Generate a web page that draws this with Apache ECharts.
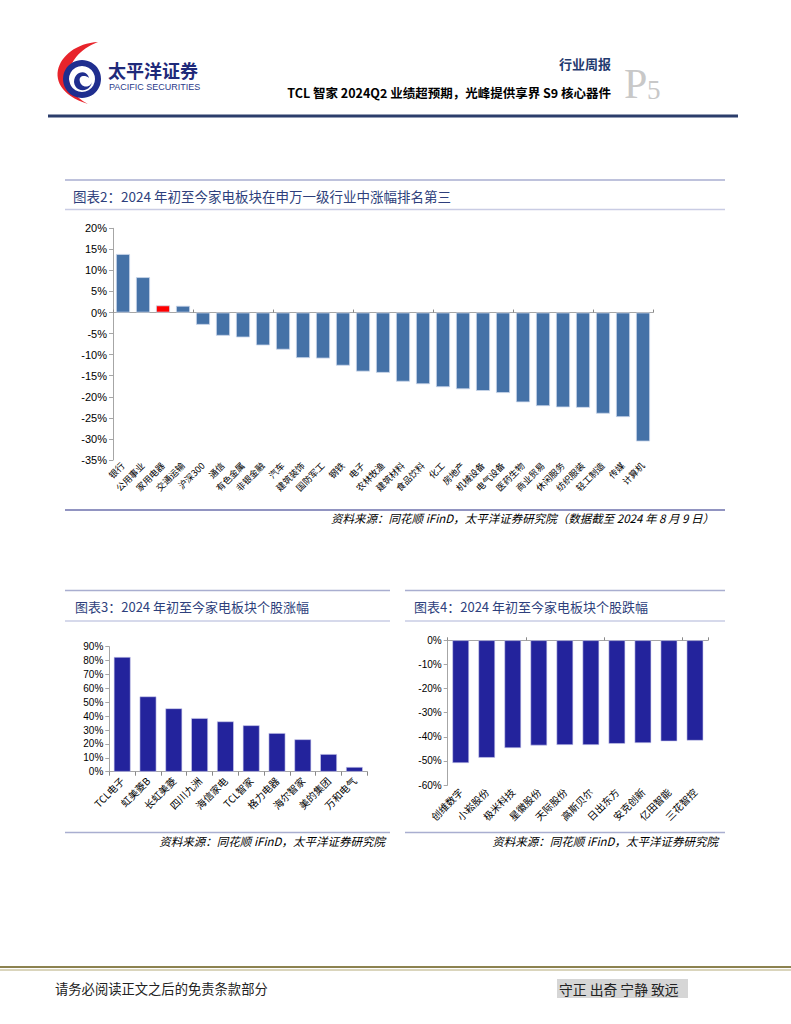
<!DOCTYPE html>
<html>
<head>
<meta charset="utf-8">
<script src="https://cdn.jsdelivr.net/npm/echarts@6/dist/echarts.min.js"></script>
<style>
html,body{margin:0;padding:0;background:#fff;}
#c{width:791px;height:1024px;}
</style>
</head>
<body>
<div id="c"></div>
<script>
// ---------- Data ----------
const cats2 = ['银行','公用事业','家用电器','交通运输','沪深300','通信','有色金属','非银金融','汽车','建筑装饰','国防军工','钢铁','电子','农林牧渔','建筑材料','食品饮料','化工','房地产','机械设备','电气设备','医药生物','商业贸易','休闲服务','纺织服装','轻工制造','传媒','计算机'];
const vals2 = [13.9, 8.4, 1.7, 1.6, -2.9, -5.5, -5.9, -7.8, -8.8, -10.8, -10.9, -12.6, -14.0, -14.3, -16.4, -17.0, -17.7, -18.2, -18.6, -19.1, -21.3, -22.2, -22.5, -22.6, -24.0, -24.8, -30.6];
const highlight2 = '家用电器';
const yRange2 = {min: -35, max: 20, interval: 5};

const cats3 = ['TCL电子','虹美菱B','长虹美菱','四川九洲','海信家电','TCL智家','格力电器','海尔智家','美的集团','万和电气'];
const vals3 = [82.6, 54.2, 45.6, 38.6, 36.2, 33.4, 27.8, 23.3, 12.7, 3.4];
const yRange3 = {min: 0, max: 90, interval: 10};

const cats4 = ['创维数字','小崧股份','极米科技','星徽股份','天际股份','高斯贝尔','日出东方','安克创新','亿田智能','三花智控'];
const vals4 = [-50.9, -48.7, -44.7, -43.6, -43.4, -43.4, -42.9, -42.6, -41.9, -41.6];
const yRange4 = {min: -60, max: 0, interval: 10};

const title2 = '图表2：2024 年初至今家电板块在申万一级行业中涨幅排名第三';
const title3 = '图表3：2024 年初至今家电板块个股涨幅';
const title4 = '图表4：2024 年初至今家电板块个股跌幅';
const source2 = '资料来源：同花顺 iFinD，太平洋证券研究院（数据截至 2024 年 8 月 9 日）';
const source34 = '资料来源：同花顺 iFinD，太平洋证券研究院';

// ---------- Styles ----------
const CJK = '"Noto Sans CJK SC", sans-serif';
const LAT = '"Liberation Sans", Arial, sans-serif';
const blue2 = '#4572a7';
const red2 = '#ff0000';
const navy = '#23239c';
const axisGrey = '#a6a6a6';

function yAxisCfg(grid, r, fs) {
  return {
    type: 'value', gridIndex: grid, min: r.min, max: r.max, interval: r.interval,
    axisLine: {show: true, lineStyle: {color: axisGrey, width: 1}},
    axisTick: {show: true, length: 4, lineStyle: {color: axisGrey}},
    splitLine: {show: false},
    axisLabel: {formatter: '{value}%', color: '#000', fontFamily: LAT, fontSize: fs, margin: 6}
  };
}
function labelAxis(grid, cats, fs, margin) {
  return {
    type: 'category', gridIndex: grid, data: cats, position: 'bottom',
    axisLine: {show: false, onZero: false}, axisTick: {show: false},
    axisLabel: {interval: 0, rotate: 45, color: '#000', fontFamily: CJK, fontSize: fs, margin: margin}
  };
}
function zeroAxis(grid, cats) {
  return {
    type: 'category', gridIndex: grid, data: cats, position: 'top',
    axisLine: {show: true, onZero: true, lineStyle: {color: axisGrey, width: 1}},
    axisTick: {show: true, length: 3, lineStyle: {color: '#888'}},
    axisLabel: {show: false}
  };
}

function hline(x1, x2, y, color, w) {
  return {type: 'line', shape: {x1: x1, y1: y, x2: x2, y2: y}, style: {stroke: color, lineWidth: w}, silent: true};
}
function txt(x, y, s, opt) {
  return {type: 'text', x: x, y: y, style: Object.assign({text: s, fill: '#000', font: '12px ' + CJK, verticalAlign: 'middle'}, opt || {}), silent: true};
}
// sample cubic bezier segments into polygon points (logo decoration)
function bez(p0, p1, p2, p3, n) {
  const pts = [];
  for (let i = 0; i <= n; i++) {
    const t = i / n, u = 1 - t;
    pts.push([
      u*u*u*p0[0] + 3*u*u*t*p1[0] + 3*u*t*t*p2[0] + t*t*t*p3[0],
      u*u*u*p0[1] + 3*u*u*t*p1[1] + 3*u*t*t*p2[1] + t*t*t*p3[1]
    ]);
  }
  return pts;
}
const crescent = bez([98,42],[58,44],[36,88],[88,104],30).concat(bez([88,104],[60,90],[62,56],[98,42],30));
const swirl = bez([74,82],[74,71],[87,69],[89,78],12).concat(bez([89,78],[84,74],[78,76],[80,82],12))
  .concat(bez([80,82],[82,88],[90,88],[92,82],12)).concat(bez([92,82],[90,93],[75,93],[74,82],12));

const graphics = [
  // logo
  {type: 'polygon', shape: {points: crescent}, style: {fill: '#e8242b'}, silent: true},
  {type: 'ring', shape: {cx: 82, cy: 79, r: 19, r0: 13}, style: {fill: '#1f2e8f'}, silent: true},
  {type: 'polygon', shape: {points: swirl}, style: {fill: '#1f2e8f'}, silent: true},
  txt(108, 70, '太平洋证券', {font: 'bold 18px ' + CJK, fill: '#1f2a7a'}),
  txt(109, 87, 'PACIFIC SECURITIES', {font: '9px ' + LAT, fill: '#2a3a8a'}),
  // header right
  txt(611, 63, '行业周报', {font: 'bold 13px ' + CJK, fill: '#1f3a6e', align: 'right'}),
  txt(611, 92, 'TCL 智家 2024Q2 业绩超预期，光峰提供享界 S9 核心器件', {font: 'bold 12.5px ' + CJK, fill: '#000', align: 'right'}),
  txt(624, 84, 'P', {font: '42px "Liberation Serif", serif', fill: '#c8c8c8'}),
  txt(647, 90, '5', {font: '27px "Liberation Serif", serif', fill: '#c8c8c8'}),
  hline(48, 738, 116, '#2b3d6b', 3),
  // chart 2 frame
  hline(65, 725, 180, '#a9aed0', 1.5),
  hline(65, 725, 209.5, '#c9cce4', 1.5),
  txt(73, 196, title2, {font: '13.5px ' + CJK, fill: '#2e3f7c'}),
  hline(65, 725, 510, '#6c71ad', 1.5),
  txt(714, 518, source2, {font: 'italic 11.5px ' + CJK, fill: '#000', align: 'right'}),
  // chart 3 frame
  hline(65, 390, 590.5, '#a9aed0', 1.5),
  hline(65, 390, 621, '#c9cce4', 1.5),
  txt(75, 606, title3, {font: '13px ' + CJK, fill: '#2e3f7c'}),
  hline(65, 390, 832.5, '#a9aed0', 1.5),
  txt(385, 841, source34, {font: 'italic 11.5px ' + CJK, fill: '#000', align: 'right'}),
  // chart 4 frame
  hline(405, 725, 590.5, '#a9aed0', 1.5),
  hline(405, 725, 621, '#c9cce4', 1.5),
  txt(414, 606, title4, {font: '13px ' + CJK, fill: '#2e3f7c'}),
  hline(405, 725, 832.5, '#a9aed0', 1.5),
  txt(718, 841, source34, {font: 'italic 11.5px ' + CJK, fill: '#000', align: 'right'}),
  // footer
  hline(0, 791, 967, '#8c8250', 2),
  hline(0, 791, 970, '#b5ab7a', 1),
  txt(55, 988, '请务必阅读正文之后的免责条款部分', {font: '13.3px ' + CJK, fill: '#222'}),
  {type: 'rect', shape: {x: 557, y: 979, width: 131, height: 19}, style: {fill: '#d6d6d6'}, silent: true},
  txt(559, 988.5, '守正 出奇 宁静 致远', {font: '13.8px ' + CJK, fill: '#222'})
];

const data2 = vals2.map((v, i) => ({value: v, itemStyle: {color: cats2[i] === highlight2 ? red2 : blue2}}));

const option = {
  animation: false,
  backgroundColor: '#fff',
  graphic: {elements: graphics},
  grid: [
    {left: 113, top: 228.3, width: 540, height: 231.7, containLabel: false},
    {left: 109.3, top: 646.7, width: 258, height: 125, containLabel: false},
    {left: 447.7, top: 640.3, width: 260.3, height: 144.7, containLabel: false}
  ],
  xAxis: [
    labelAxis(0, cats2, 9, 4),
    zeroAxis(0, cats2),
    {
      type: 'category', gridIndex: 1, data: cats3, position: 'bottom',
      axisLine: {show: true, lineStyle: {color: axisGrey}},
      axisTick: {show: true, length: 4, lineStyle: {color: '#888'}},
      axisLabel: {interval: 0, rotate: 45, color: '#000', fontFamily: CJK, fontSize: 10, margin: 7}
    },
    labelAxis(2, cats4, 10, 5),
    zeroAxis(2, cats4)
  ],
  yAxis: [
    yAxisCfg(0, yRange2, 11),
    yAxisCfg(1, yRange3, 10),
    yAxisCfg(2, yRange4, 10)
  ],
  series: [
    {type: 'bar', xAxisIndex: 0, yAxisIndex: 0, data: data2, barCategoryGap: '30%',
     itemStyle: {borderColor: '#c9d6ea', borderWidth: 0.8}},
    {type: 'bar', xAxisIndex: 2, yAxisIndex: 1, data: vals3, barCategoryGap: '35%',
     itemStyle: {color: navy, borderColor: '#d0d0ee', borderWidth: 0.6}},
    {type: 'bar', xAxisIndex: 3, yAxisIndex: 2, data: vals4, barCategoryGap: '36%',
     itemStyle: {color: navy, borderColor: '#d0d0ee', borderWidth: 0.6}}
  ]
};

const chart = echarts.init(document.getElementById('c'), null, {renderer: 'svg', width: 791, height: 1024});
chart.setOption(option);
</script>
</body>
</html>
